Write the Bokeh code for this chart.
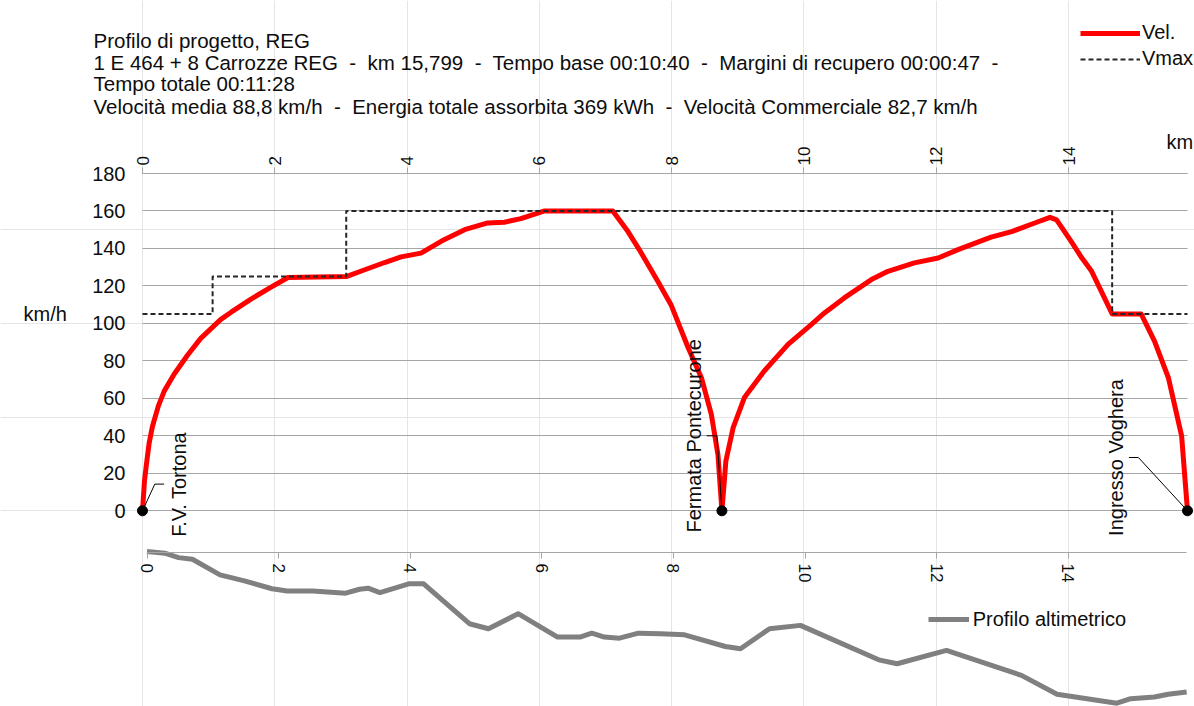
from math import pi
from bokeh.plotting import figure
from bokeh.models import (Range1d, Label, Legend, LegendItem, LinearAxis, Grid, FixedTicker)
from bokeh.embed import file_html
from bokeh.resources import INLINE
from bokeh.core.properties import value

# ---------------- data ----------------
speed_km = [0, 0.03, 0.06, 0.10, 0.15, 0.24, 0.33, 0.48, 0.68, 0.88, 1.18, 1.34, 1.64, 1.95,
            2.20, 3.08, 3.35, 3.66, 3.91, 4.21, 4.56, 4.87, 5.22, 5.47, 5.72, 6.08, 7.11,
            7.34, 7.51, 7.79, 7.99, 8.25, 8.45, 8.60, 8.70, 8.76,
            8.82, 8.93, 9.10, 9.40, 9.76, 10.11, 10.31, 10.61, 11.02, 11.27, 11.67, 12.03,
            12.33, 12.63, 12.83, 13.14, 13.49, 13.72, 13.82, 14.04, 14.20, 14.35, 14.52,
            14.66, 15.10, 15.30, 15.51, 15.71, 15.799]
speed_kmh = [0, 16, 25, 36, 45, 56, 64, 73, 83, 92, 102, 106, 113, 119.5,
             124.5, 125, 128.5, 132.5, 135.5, 137.5, 144.7, 150, 153.6, 154, 155.9, 160, 160,
             149, 139.4, 122.5, 110, 87, 71, 51.5, 30, 0,
             26.6, 44.4, 60.4, 74.6, 88.8, 99.4, 105.6, 113.6, 123.4, 127.8, 132.3, 134.9,
             139.4, 143.4, 146, 149, 153.6, 156.6, 155.3, 143.8, 135, 127.8, 115.4,
             105, 105, 90.5, 71, 40, 0]

vmax_km = [0, 1.06, 3.08, 14.66, 15.799]
vmax_kmh = [105, 125, 160, 105, 105]

stations = ["F.V. Tortona", "Fermata Pontecurone", "Ingresso Voghera"]
station_km = [0, 8.76, 15.799]
station_kmh = [0, 0, 0]

alt_km = [0, 0.27, 0.48, 0.69, 1.11, 1.48, 1.90, 2.13, 2.52, 3.02, 3.23, 3.36, 3.54, 3.99,
          4.20, 4.90, 5.19, 5.64, 6.24, 6.58, 6.76, 6.95, 7.18, 7.47, 7.80, 8.17, 8.79,
          9.02, 9.46, 9.93, 11.12, 11.40, 12.15, 13.29, 13.83, 14.74, 14.95, 15.31, 15.52, 15.80]
alt_m = [122.0, 121.7, 120.9, 120.6, 117.8, 116.7, 115.3, 114.9, 114.9, 114.5, 115.2, 115.4,
         114.6, 116.2, 116.2, 109.0, 108.1, 110.8, 106.6, 106.6, 107.3, 106.6, 106.4, 107.3,
         107.2, 107.0, 104.9, 104.5, 108.1, 108.7, 102.5, 101.8, 104.2, 99.7, 96.3, 94.7,
         95.5, 95.8, 96.3, 96.7]

km_ticks = [0, 2, 4, 6, 8, 10, 12, 14]
kmh_ticks = [0, 20, 40, 60, 80, 100, 120, 140, 160, 180]
route_km = 15.799
kmh_max = 180

SEP = "\u00a0 -\u00a0 "
title_lines = [
    "Profilo di progetto, REG",
    "1 E 464 + 8 Carrozze REG" + SEP + "km 15,799" + SEP + "Tempo base 00:10:40" + SEP
    + "Margini di recupero 00:00:47\u00a0 -",
    "Tempo totale 00:11:28",
    "Velocità media 88,8 km/h" + SEP + "Energia totale assorbita 369 kWh" + SEP
    + "Velocità Commerciale 82,7 km/h",
]

# ---------------- layout / style constants (pixels) ----------------
W, H = 1194, 706
FONT = "Liberation Sans"
GRID = "#A6A6A6"
TXT = "#0d0d0d"

X0_PX, XEND_PX = 142.0, 1187.0        # speed chart: km 0 .. route end
YTOP_PX, YZERO_PX = 173.0, 510.3      # speed chart: 180 .. 0 km/h
ALT_X0_PX, ALT_KM_PX = 146.5, 65.8    # altitude chart horizontal scale
ALT_REF, ALT_REF_PX, ALT_M_PER_PX = 122.0, 551.0, 0.18
ALT_AXIS_PX = 552.0

KM_PX = (XEND_PX - X0_PX) / route_km
KMH_PX = (YZERO_PX - YTOP_PX) / kmh_max

x_range = Range1d(-X0_PX / KM_PX, (W - X0_PX) / KM_PX)
y_range = Range1d(-(H - YZERO_PX) / KMH_PX, (YZERO_PX) / KMH_PX)
alt_x_range = Range1d(-ALT_X0_PX / ALT_KM_PX, (W - ALT_X0_PX) / ALT_KM_PX)
alt_y_range = Range1d(ALT_REF - (H - ALT_REF_PX) * ALT_M_PER_PX, ALT_REF + ALT_REF_PX * ALT_M_PER_PX)

p = figure(width=W, height=H, x_range=x_range, y_range=y_range,
           x_axis_location=None, y_axis_location=None,
           output_backend="svg", toolbar_location=None, min_border=0)
p.extra_x_ranges = {"alt_x": alt_x_range}
p.extra_y_ranges = {"alt": alt_y_range}
p.outline_line_color = None
p.background_fill_color = "white"
p.border_fill_color = "white"

# ---- grid for speed chart ----
grid_kw = dict(dimension=1, ticker=FixedTicker(ticks=kmh_ticks), bounds=(0, kmh_max),
               grid_line_color=GRID, grid_line_width=1)
if "cross_bounds" in Grid.properties():
    grid_kw["cross_bounds"] = (0, route_km)
p.add_layout(Grid(**grid_kw))

# ---- axes ----
ax_top = LinearAxis(ticker=FixedTicker(ticks=km_ticks), fixed_location=kmh_max,
                    bounds=(0, route_km))
ax_left = LinearAxis(ticker=FixedTicker(ticks=kmh_ticks), fixed_location=0,
                     bounds=(0, kmh_max))
ax_bot = LinearAxis(ticker=FixedTicker(ticks=km_ticks), x_range_name="alt_x",
                    y_range_name="alt",
                    fixed_location=ALT_REF - (ALT_AXIS_PX - ALT_REF_PX) * ALT_M_PER_PX,
                    bounds=(0, 15.8))
for ax in (ax_top, ax_bot):
    ax.axis_line_color = GRID
    ax.major_tick_line_color = GRID
    ax.major_tick_out = 6
    ax.major_tick_in = 0
    ax.minor_tick_line_color = None
    ax.major_label_orientation = "vertical"
    ax.major_label_text_font = FONT
    ax.major_label_text_font_size = "17px"
    ax.major_label_text_color = TXT
ax_top.major_label_standoff = 2
ax_bot.major_label_standoff = 5

ax_left.axis_line_color = None
ax_left.major_tick_line_color = None
ax_left.major_tick_out = 0
ax_left.minor_tick_line_color = None
ax_left.major_label_text_font = FONT
ax_left.major_label_text_font_size = "20px"
ax_left.major_label_text_color = TXT
ax_left.major_label_standoff = 17

p.add_layout(ax_top, "above")
p.add_layout(ax_bot, "below")
p.add_layout(ax_left, "left")

# ---- speed chart glyphs ----
r_vel = p.line(speed_km, speed_kmh, line_color="#FF0000", line_width=5, line_join="round")
r_vmax = p.step(vmax_km, vmax_kmh, mode="after", line_color="#262626", line_width=2,
                line_dash="5 3")

# leader lines (pixel offsets: right, up) and station-label offsets
leader_px = [[(0, 0), (12.3, 26.7), (21.6, 26.7)],
             [(0, 0), (-5.0, 75.0), (-15.2, 75.0)],
             [(0, 0), (-49.1, 53.3), (-58.6, 53.3)]]
label_px = [(36.6, 26.4), (-28.0, 75.0), (-72.0, 53.3)]
lx = [[k + dx / KM_PX for dx, dy in pts] for k, pts in zip(station_km, leader_px)]
ly = [[v + dy / KMH_PX for dx, dy in pts] for v, pts in zip(station_kmh, leader_px)]
p.multi_line(lx, ly, line_color="#000000", line_width=1)
p.scatter(station_km, station_kmh, size=10, color="#000000")
p.text(x=station_km, y=station_kmh, text=stations, angle=pi / 2,
       x_offset=[d[0] for d in label_px], y_offset=[-d[1] for d in label_px],
       text_align="center", text_baseline="middle", text_font=value(FONT),
       text_font_size="20px", text_color=TXT)

# ---- altitude profile ----
r_alt = p.line(alt_km, alt_m, x_range_name="alt_x", y_range_name="alt",
               line_color="#808080", line_width=5, line_join="round")

# ---- legends ----
leg_common = dict(orientation="vertical", glyph_height=20, label_height=20, spacing=3,
                  padding=0, margin=0, border_line_color=None, background_fill_alpha=0,
                  label_text_font=FONT, label_text_font_size="20px", label_text_color=TXT)
legend1 = Legend(items=[LegendItem(label="Vel.", renderers=[r_vel]),
                        LegendItem(label="Vmax", renderers=[r_vmax])],
                 location=(1080, H - 70), glyph_width=60, label_standoff=2, **leg_common)
legend2 = Legend(items=[LegendItem(label="Profilo altimetrico", renderers=[r_alt])],
                 location=(927.7, H - 630.7), glyph_width=41, label_standoff=4, **leg_common)
p.add_layout(legend1)
p.add_layout(legend2)

# ---- free texts ----
def add_text(txt, px, py, size="20px"):
    p.add_layout(Label(x=px, y=H - py, x_units="screen", y_units="screen", text=txt,
                       text_align="left", text_baseline="middle", text_font=FONT,
                       text_font_size=size, text_color=TXT))

for line, ty in zip(title_lines, [40, 61.5, 83, 105.5]):
    add_text(line, 93, ty, "20.5px")
add_text("km/h", 23, 313)
add_text("km", 1166, 141.5)

open("out.html", "w").write(file_html(p, INLINE))
